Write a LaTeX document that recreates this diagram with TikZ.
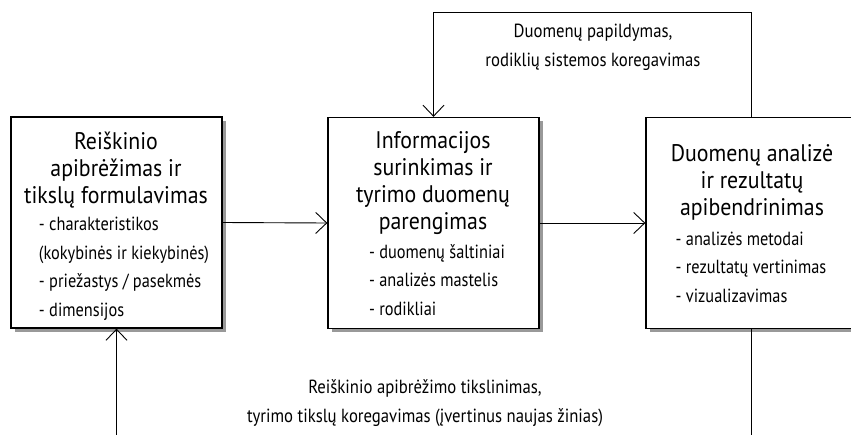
\documentclass[tikz,border=0pt]{standalone}
\usepackage{fontspec}
\setmainfont{PT Sans}[FakeStretch=0.86]
\newfontfamily\headfont{PT Sans}[FakeStretch=0.91]
\newfontfamily\notefont{PT Sans}[FakeStretch=0.88]
\usetikzlibrary{arrows.meta,shadows}
\begin{document}
\begin{tikzpicture}[x=1pt,y=-1pt,
  stagebox/.style={draw, line width=1.3pt, fill=white, minimum width=211pt,
    minimum height=211pt, inner sep=0pt,
    drop shadow={shadow xshift=3.5pt, shadow yshift=-3.5pt, opacity=1, fill=black!40}},
  % multi-line nodes: the base anchor sits on the last line
  title/.style={font=\headfont\fontsize{24}{27}\selectfont, align=center, inner sep=0pt, anchor=base},
  items/.style={font=\fontsize{19}{28.5}\selectfont, align=left, inner sep=0pt, anchor=base},
  note/.style={font=\notefont\fontsize{19}{29}\selectfont, align=center, inner sep=0pt, anchor=base},
  flow/.style={line width=0.9pt, -{Straight Barb[length=11pt,width=21pt,line width=0.9pt]}}]
\useasboundingbox (0,0) rectangle (851,434);

% the three stages
\node[stagebox] (b1) at (116.5,222.5) {};
\node[stagebox] (b2) at (433.5,223) {};
\node[stagebox] (b3) at (751.5,223) {};

% stage texts
\node[title] (t1) at (116,203) {Reiškinio\\apibrėžimas ir\\tikslų formulavimas};
\node[items] (i1) at (124,316) {- charakteristikos\\(kokybinės ir kiekybinės)\\- priežastys / pasekmės\\- dimensijos};

\node[title] (t2) at (433,229) {Informacijos\\surinkimas ir\\tyrimo duomenų\\parengimas};
\node[items] (i2) at (437,315) {- duomenų šaltiniai\\- analizės mastelis\\- rodikliai};

\node[title] (t3) at (752,215) {Duomenų analizė\\ir rezultatų\\apibendrinimas};
\node[items] (i3) at (751,302) {- analizės metodai\\- rezultatų vertinimas\\- vizualizavimas};

% main flow
\draw[flow] (b1.east) -- (b2.west);
\draw[flow] (b2.east) -- (b3.west);

% feedback loops
\coordinate (top) at (0,12);
\coordinate (bot) at (0,445);
\draw[flow] (b3.north) -- (b3.north |- top) -- (b2.north |- top) -- (b2.north);
\draw[flow] (b3.south) -- (b3.south |- bot) -- (b1.south |- bot) -- (b1.south);

\node[note] (n1) at (593,66) {Duomenų papildymas,\\rodiklių sistemos koregavimas};
\node[note] (n2) at (425,422) {Reiškinio apibrėžimo tikslinimas,\\tyrimo tikslų koregavimas (įvertinus naujas žinias)};
\end{tikzpicture}
\end{document}
